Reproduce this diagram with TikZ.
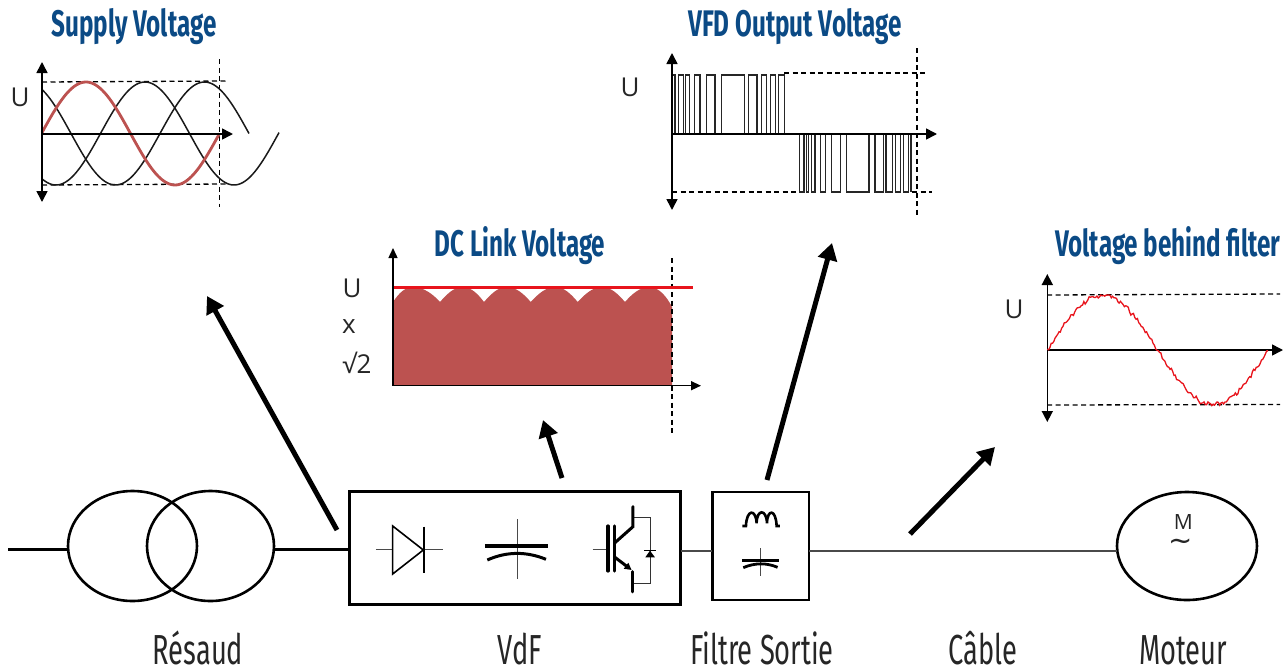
\documentclass[tikz,border=0pt]{standalone}
\usepackage{fontspec}
\setmainfont{Open Sans}
\newfontfamily\titlefont[FakeStretch=0.655]{Fira Sans}
\newfontfamily\labelfont[FakeStretch=0.65]{Fira Sans}
\newfontfamily\symfont{DejaVu Sans}
\usetikzlibrary{arrows.meta,shapes.geometric}
\definecolor{titleblue}{HTML}{0B4A85}
\definecolor{brick}{HTML}{BC5250}
\definecolor{wire}{HTML}{4A4A4A}
\definecolor{sinered}{HTML}{E8141C}
\tikzset{
  charttitle/.style={font=\titlefont\bfseries\fontsize{37}{37}\selectfont,text=titleblue,inner sep=0pt,anchor=base},
  caption/.style={font=\labelfont\fontsize{42}{42}\selectfont,text=black!85,inner sep=0pt,anchor=base},
  ulabel/.style={font=\fontsize{26}{26}\selectfont,text=black!85,inner sep=0pt},
  yaxisline/.style={line width=1.6pt,{Triangle[length=11pt,width=11pt]}-{Triangle[length=11pt,width=11pt]}},
  xaxisline/.style={line width=1.6pt,-{Triangle[length=11pt,width=11pt]}},
  dashline/.style={line width=1.3pt,dash pattern=on 5pt off 3.5pt},
  waveline/.style={line width=1.5pt,black!90},
  pulseline/.style={line width=1.4pt,black!85},
  bigarrow/.style={line width=5pt,-{Triangle[length=17pt,width=19pt]}},
  heavywire/.style={line width=3pt,black},
  thinwire/.style={line width=2pt,wire},
  leadline/.style={line width=1pt,wire},
  plateline/.style={line width=3pt,black},
  boxnode/.style={draw,line width=3pt,inner sep=0pt,outer sep=0pt},
  roundnode/.style={draw,ellipse,line width=2.6pt,inner sep=0pt,outer sep=0pt},
}
\begin{document}
\begin{tikzpicture}[x=1pt,y=-1pt]
\useasboundingbox (0,0) rectangle (1286,670);

% titles
\node[charttitle] (t1) at (134,36) {Supply Voltage};
\node[charttitle] (t2) at (795,36) {VFD Output Voltage};
\node[charttitle] (t3) at (520,256) {DC Link Voltage};
\node[charttitle] (t4) at (1168,256) {Voltage behind filter};

% Supply chart
\draw[dashline] (42,82) -- (228,81);
\draw[dashline] (42,185) -- (228,184);
\draw[dashline] (219.5,59) -- (219.5,207);
\draw[waveline] plot[domain=42:279,samples=120] (\x,{133.5-51.5*sin((\x-100.5)/178*360)});
\draw[waveline] plot[domain=42:249,samples=110] (\x,{133.5-51.5*sin((\x-160)/178*360)});
\draw[line width=2.8pt,brick] plot[domain=42:219.5,samples=90] (\x,{133.5-51.5*sin((\x-41.5)/178*360)});
\draw[yaxisline] (42,62) -- (42,202);
\draw[xaxisline] (42,134) -- (233,134);
\node[ulabel] (u1) at (20,97) {U};

% VFD chart
\draw[dashline] (784,73) -- (928,73);
\draw[dashline] (672,192) -- (800,192);
\draw[dashline] (912,192) -- (932,192);
\draw[dashline] (917,48) -- (917,217);
\foreach \a/\b in {185/195,205/220,227/238,253/270,289/315,335/403,416/441,454/470,482/497,505/524}
  \draw[pulseline] ({610+\a/3},134) rectangle ({610+\b/3},75);
\foreach \a/\b in {568/582,590/595,605/615,632/647,665/692,710/777,795/820,828/847,857/872,880/895}
  \draw[pulseline] ({610+\a/3},134) rectangle ({610+\b/3},192);
\draw[pulseline] ({610+903/3},134) -- ({610+903/3},192);
\draw[yaxisline] (672,53) -- (672,210);
\draw[xaxisline] (672,134) -- (937,134);
\node[ulabel] (u2) at (630,87) {U};

% DC link chart
\fill[brick] (393,385.5) -- (393,302)
  .. controls (399,293) and (405,287) .. (413.3,287)
  .. controls (423,287) and (433,294) .. (440,302)
  .. controls (447,294) and (454,287) .. (462.7,287)
  .. controls (471,287) and (478,294) .. (484,302)
  .. controls (491,294) and (498,287) .. (506.7,287)
  .. controls (516,287) and (524,294) .. (530.7,302)
  .. controls (538,294) and (546,287) .. (555,287)
  .. controls (564,287) and (571,294) .. (577.7,302)
  .. controls (585,294) and (593,287) .. (601.7,287)
  .. controls (611,287) and (618,294) .. (625,302)
  .. controls (632,294) and (640,287) .. (649.3,287)
  .. controls (659,287) and (667,297) .. (672,307)
  -- (672,385.5) -- cycle;
\draw[dashline] (672,258) -- (672,436);
\draw[line width=3pt,sinered] (392,287) -- (693,287);
\draw[line width=1.4pt,-{Triangle[length=10pt,width=9pt]}] (393,385.7) -- (393,248);
\draw[line width=1.4pt,-{Triangle[length=10pt,width=9pt]}] (393,385.7) -- (701,385.7);
\node[ulabel] (u3) at (352,288) {U};
\node[ulabel] (x3) at (349,327) {x};
\node[ulabel] (r3) at (357,363) {√2};

% Filtered chart
\draw[dashline] (1047,295) -- (1280,294);
\draw[dashline] (1047,405) -- (1280,404.5);
\draw[yaxisline] (1047.3,274) -- (1047.3,422);
\draw[xaxisline] (1047.3,350) -- (1283,350);
\draw[line width=1.3pt,sinered] plot[domain=1047.3:1268,samples=170]
  (\x,{350-54.5*sin((\x-1047.3)/221*360)+0.7*sin((\x-1047)*31)+0.6*sin((\x-1047)*57)+3.4*(rnd-0.5)});
\node[ulabel] (u4) at (1014,309) {U};

% power chain
\node[roundnode,minimum width=129pt,minimum height=110pt] (tr1) at (132.5,546) {};
\node[roundnode,minimum width=127pt,minimum height=110pt] (tr2) at (210.5,546) {};
\node[boxnode,minimum width=331pt,minimum height=113.5pt] (vfd) at (515,548.2) {};
\node[boxnode,line width=2.6pt,minimum width=96.7pt,minimum height=108pt] (flt) at (760.7,545.8) {};
\node[roundnode,minimum width=140pt,minimum height=108pt] (mot) at (1187,546) {};
\coordinate (feed) at (8,549);
\coordinate (wa) at (0,549);
\coordinate (wb) at (0,550.5);
\draw[heavywire] (feed) -- (feed -| tr1.west);
\draw[heavywire] (wa -| tr2.east) -- (wa -| vfd.west);
\draw[thinwire] (wb -| vfd.east) -- (wb -| flt.west);
\draw[thinwire] (wb -| flt.east) -- (wb -| mot.west);

% motor text
\node[inner sep=0pt,font=\fontsize{21}{21}\selectfont,text=black!85] (mm) at (1183.3,522) {M};
\node[inner sep=0pt,font=\symfont\fontsize{29}{29}\selectfont,text=black!85] (mt) at (1181,545) {∼};

% converter symbols
\begin{scope}[shift={(330,470)},x=0.3333pt,y=-0.3333pt]
\draw[leadline] (138,240) -- (188,240) (280,240) -- (338,240);
\draw[line width=1.6pt,black] (188,168) -- (188,312) -- (280,240) -- cycle;
\draw[line width=2.2pt,black] (281,170) -- (281,310);
% capacitor
\draw[leadline] (563,148) -- (563,328);
\draw[plateline] (465,228) -- (655,228);
\draw[plateline] (472,270) .. controls (530,244) and (590,244) .. (648,268);
% IGBT
\draw[leadline] (788,240) -- (830,240);
\draw[line width=1.1pt,black!80] (910,142) -- (962,142) -- (962,340) -- (910,340);
\draw[line width=3.2pt,line cap=round,black] (834,168) -- (834,303) (853,168) -- (853,303);
\draw[line width=3pt,line cap=round,black] (909,110) -- (909,170) -- (855,218);
\draw[line width=3pt,line cap=round,black] (909,366) -- (909,305);
\draw[line width=3pt,black,-{Triangle[length=7pt,width=7pt]}] (855,262) -- (905,300);
\fill[black] (946,262) -- (975,262) -- (960,242) -- cycle;
\draw[line width=1.1pt,black] (943,241) -- (977,241);
% filter
\draw[line width=2.6pt,black] (1237,168) -- (1248,168)
  .. controls (1250,116) and (1278,116) .. (1280,160)
  .. controls (1280,116) and (1310,116) .. (1311,160)
  .. controls (1312,116) and (1338,116) .. (1340,168) -- (1350,168);
\draw[leadline] (1293,235) -- (1293,318);
\draw[line width=2.8pt,black] (1237,272) -- (1347,272);
\draw[line width=2.8pt,black] (1240,293) .. controls (1275,278) and (1310,278) .. (1343,292);
\end{scope}

% arrows
\coordinate (a1s) at (337,530); \coordinate (a1e) at (207,296);
\coordinate (a2s) at (562,478); \coordinate (a2e) at (543,420);
\coordinate (a3s) at (767,480); \coordinate (a3e) at (832,243);
\coordinate (a4s) at (910,534); \coordinate (a4e) at (995,447);
\draw[bigarrow] (a1s) -- (a1e);
\draw[bigarrow] (a2s) -- (a2e);
\draw[bigarrow] (a3s) -- (a3e);
\draw[bigarrow] (a4s) -- (a4e);

% captions
\node[caption] (c1) at (198,664) {Résaud};
\node[caption] (c2) at (520,664) {VdF};
\node[caption] (c3) at (762,664) {Filtre Sortie};
\node[caption] (c4) at (983,664) {Câble};
\node[caption] (c5) at (1183,664) {Moteur};
\end{tikzpicture}
\end{document}
